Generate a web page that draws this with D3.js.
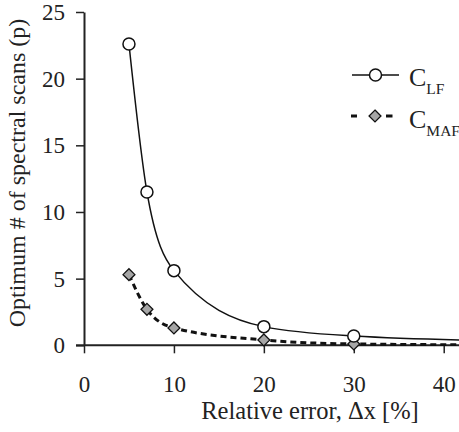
<!DOCTYPE html>
<html>
<head>
<meta charset="UTF-8">
<script src="https://d3js.org/d3.v7.min.js"></script>
</head>
<body style="margin:0">
<svg id="chart" width="459" height="432"></svg>
<script>
    // values
    const errX = [5, 7, 10, 20, 30, 50];
    const lfValues = [22.6, 11.5, 5.6, 1.4, 0.7, 0.3];
    const mafValues = [5.3, 2.7, 1.3, 0.4, 0.1, 0.02];
    const xTicks = [0, 10, 20, 30, 40];
    const yTicks = [0, 5, 10, 15, 20, 25];
    const markedX = [5, 7, 10, 20, 30];

    const serif = "Liberation Serif";
    const svg = d3.select("#chart");
    const x = d3.scaleLinear().domain([0, 41.7]).range([84, 459]);
    const y = d3.scaleLinear().domain([0, 25]).range([345.3, 12]);

    // axes
    const xAxis = svg.append("g")
        .attr("transform", `translate(0,${y(0)})`)
        .call(d3.axisBottom(x).tickValues(xTicks).tickSize(8).tickPadding(22).tickSizeOuter(0));
    const yAxis = svg.append("g")
        .attr("transform", `translate(${x(0)},0)`)
        .call(d3.axisLeft(y).tickValues(yTicks).tickSize(8).tickPadding(11).tickSizeOuter(0));

    [xAxis, yAxis].forEach(a => {
        a.attr("font-family", serif).attr("font-size", 23);
        a.select(".domain").attr("stroke", "#222").attr("stroke-width", 2);
        a.selectAll(".tick line").attr("stroke", "#222").attr("stroke-width", 1.5);
        a.selectAll(".tick text").attr("fill", "#222").attr("font-family", serif);
    });
    // the x axis line also runs a little left of the y axis
    xAxis.select(".domain").attr("d", `M${x(0) - 8},0H459`);

    svg.append("text")
        .attr("x", 310).attr("y", 419)
        .attr("text-anchor", "middle").attr("font-family", serif)
        .attr("font-size", 24.5).attr("fill", "#222")
        .text("Relative error, \u0394x [%]");

    svg.append("text")
        .attr("transform", "translate(25,173) rotate(-90)")
        .attr("text-anchor", "middle").attr("font-family", serif)
        .attr("font-size", 24).attr("fill", "#222")
        .text("Optimum # of spectral scans (p)");

    svg.append("clipPath").attr("id", "plot")
        .append("rect").attr("x", 84).attr("y", 0).attr("width", 375).attr("height", 346);

    const line = d3.line()
        .x(d => x(d[0])).y(d => y(d[1]))
        .curve(d3.curveMonotoneX);

    const lfData = errX.map((v, i) => [v, lfValues[i]]);
    const mafData = errX.map((v, i) => [v, mafValues[i]]);

    const plot = svg.append("g").attr("clip-path", "url(#plot)");

    plot.append("path").datum(mafData)
        .attr("d", line).attr("fill", "none")
        .attr("stroke", "#111").attr("stroke-width", 3)
        .attr("stroke-dasharray", "6,4");

    plot.append("path").datum(lfData)
        .attr("d", line).attr("fill", "none")
        .attr("stroke", "#111").attr("stroke-width", 1.5);

    const diamond = d3.symbol().type(d3.symbolDiamond2).size(90);

    svg.selectAll(".maf").data(mafData.filter(d => markedX.includes(d[0])))
        .join("path").attr("class", "maf")
        .attr("d", diamond)
        .attr("transform", d => `translate(${x(d[0])},${y(d[1])})`)
        .attr("fill", "#a6a6a6").attr("stroke", "#111").attr("stroke-width", 1.3);

    svg.selectAll(".lf").data(lfData.filter(d => markedX.includes(d[0])))
        .join("circle").attr("class", "lf")
        .attr("cx", d => x(d[0])).attr("cy", d => y(d[1])).attr("r", 6)
        .attr("fill", "#fff").attr("stroke", "#111").attr("stroke-width", 1.5);

    // legend
    const lg = svg.append("g");
    lg.append("line").attr("x1", 352).attr("x2", 399).attr("y1", 75).attr("y2", 75)
        .attr("stroke", "#111").attr("stroke-width", 1.5);
    lg.append("circle").attr("cx", 375.5).attr("cy", 75).attr("r", 6)
        .attr("fill", "#fff").attr("stroke", "#111").attr("stroke-width", 1.5);
    [[351, 357], [386, 392.5]].forEach(s => {
        lg.append("line").attr("x1", s[0]).attr("x2", s[1]).attr("y1", 116).attr("y2", 116)
            .attr("stroke", "#111").attr("stroke-width", 3);
    });
    lg.append("path").attr("d", diamond)
        .attr("transform", "translate(375,116)")
        .attr("fill", "#a6a6a6").attr("stroke", "#111").attr("stroke-width", 1.3);

    const labels = [["C", "LF", 86], ["C", "MAF", 128]];
    labels.forEach(l => {
        const t = lg.append("text").attr("x", 409).attr("y", l[2])
            .attr("font-family", serif).attr("font-size", 26).attr("fill", "#222");
        t.append("tspan").text(l[0]);
        t.append("tspan").attr("dy", 8).attr("font-size", 15.5).text(l[1]);
    });
</script>
</body>
</html>
